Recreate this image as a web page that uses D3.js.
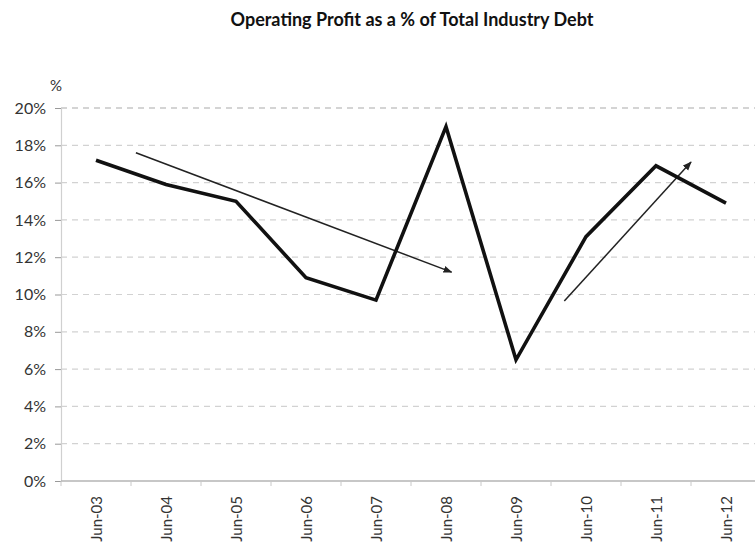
<!DOCTYPE html>
<html>
<head>
<meta charset="utf-8">
<script src="https://cdn.jsdelivr.net/npm/d3@7"></script>
<style>
  html, body { margin: 0; padding: 0; background: #fff; }
  svg { display: block; font-family: Lato, "Open Sans", sans-serif; }
</style>
</head>
<body>
<svg id="chart" width="755" height="549"></svg>
<script>
// Operating profit as a share of total industry debt, June of each year
const categories = ["Jun-03", "Jun-04", "Jun-05", "Jun-06", "Jun-07", "Jun-08", "Jun-09", "Jun-10", "Jun-11", "Jun-12"];
const profitPct = [17.2, 15.9, 15.0, 10.9, 9.7, 19.0, 6.5, 13.1, 16.9, 14.9];
const yTicks = [0, 2, 4, 6, 8, 10, 12, 14, 16, 18, 20];

// Trend arrows, in category-index / percent units
const trendArrows = [
  { from: [0.57, 17.6], to: [5.08, 11.2] },
  { from: [6.69, 9.65], to: [8.5, 17.1] }
];

const svg = d3.select("#chart");
const plot = { left: 61, right: 761, top: 108, bottom: 481 };

const x = d3.scaleLinear().domain([-0.5, categories.length - 0.5]).range([plot.left, plot.right]);
const y = d3.scaleLinear().domain([0, 20]).range([plot.bottom, plot.top]);

// Title
svg.append("text")
  .attr("x", 412).attr("y", 26)
  .attr("text-anchor", "middle")
  .attr("font-size", 18).attr("font-weight", 700)
  .attr("fill", "#111")
  .text("Operating Profit as a % of Total Industry Debt");

// Unit label above the value axis
svg.append("text")
  .attr("x", 56).attr("y", 91)
  .attr("text-anchor", "middle")
  .attr("font-size", 15).attr("fill", "#333")
  .text("%");

// Horizontal gridlines
svg.append("g")
  .selectAll("line")
  .data(yTicks.filter(d => d > 0))
  .join("line")
  .attr("x1", plot.left).attr("x2", 755)
  .attr("y1", d => y(d)).attr("y2", d => y(d))
  .attr("stroke", d => d === 20 ? "#aaa" : "#d2d2d2")
  .attr("stroke-width", 1.2)
  .attr("stroke-dasharray", "6,5");

// Value axis
const yAxis = d3.axisLeft(y)
  .tickValues(yTicks)
  .tickFormat(d => d + "%")
  .tickSize(6)
  .tickPadding(9);
const yg = svg.append("g").attr("transform", `translate(${plot.left},0)`).call(yAxis);
yg.select(".domain").attr("stroke", "#d0d0d0").attr("stroke-width", 1.2);
yg.selectAll(".tick line").attr("stroke", "#999");
yg.selectAll(".tick text").attr("font-size", 16).attr("fill", "#333")
  .attr("font-family", "Lato, sans-serif");

// Category axis: ticks between categories, labels rotated
const xg = svg.append("g");
xg.append("line")
  .attr("x1", plot.left).attr("x2", 755)
  .attr("y1", plot.bottom).attr("y2", plot.bottom)
  .attr("stroke", "#b5b5b5").attr("stroke-width", 1.5);
xg.selectAll("line.tick")
  .data(d3.range(categories.length + 1))
  .join("line")
  .attr("class", "tick")
  .attr("x1", d => x(d - 0.5)).attr("x2", d => x(d - 0.5))
  .attr("y1", plot.bottom).attr("y2", plot.bottom + 5)
  .attr("stroke", "#c8c8c8");
xg.selectAll("text")
  .data(categories)
  .join("text")
  .attr("transform", (d, i) => `translate(${x(i) + 6},${plot.bottom + 15}) rotate(-90)`)
  .attr("text-anchor", "end")
  .attr("font-size", 15).attr("fill", "#333")
  .text(d => d);

// Trend arrows
const defs = svg.append("defs");
defs.append("marker")
  .attr("id", "arrowhead")
  .attr("viewBox", "0 0 10 10")
  .attr("refX", 9).attr("refY", 5)
  .attr("markerWidth", 6).attr("markerHeight", 6)
  .attr("orient", "auto")
  .append("path")
  .attr("d", "M0,1 L10,5 L0,9 Z")
  .attr("fill", "#222");

svg.append("g")
  .selectAll("line")
  .data(trendArrows)
  .join("line")
  .attr("x1", d => x(d.from[0])).attr("y1", d => y(d.from[1]))
  .attr("x2", d => x(d.to[0])).attr("y2", d => y(d.to[1]))
  .attr("stroke", "#222").attr("stroke-width", 1.5)
  .attr("marker-end", "url(#arrowhead)");

// Profit line
const line = d3.line()
  .x((d, i) => x(i))
  .y(d => y(d));
svg.append("path")
  .datum(profitPct)
  .attr("d", line)
  .attr("fill", "none")
  .attr("stroke", "#111")
  .attr("stroke-width", 3.6)
  .attr("stroke-linejoin", "miter")
  .attr("stroke-miterlimit", 4);
</script>
</body>
</html>
